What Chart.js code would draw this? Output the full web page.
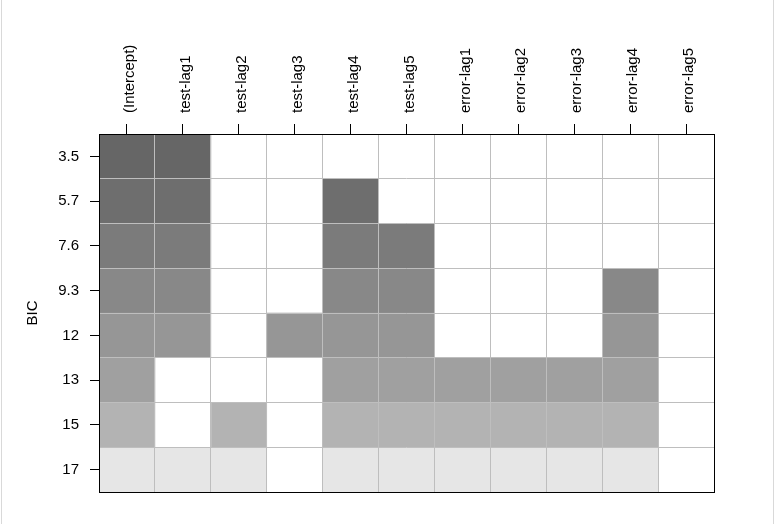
<!DOCTYPE html>
<html>
<head>
<meta charset="utf-8">
<script src="https://cdn.jsdelivr.net/npm/chart.js@4.4.1/dist/chart.umd.min.js"></script>
<style>
  body { margin: 0; background: #fff; }
  #wrap { position: relative; width: 775px; height: 524px; }
  #frame { position: absolute; left: 1px; top: 0; width: 771px; height: 524px;
           border-left: 1px solid #d9d9d9; border-right: 1px solid #d9d9d9; pointer-events: none; }
</style>
</head>
<body>
<div id="wrap">
  <canvas id="bicChart" width="775" height="524"></canvas>
  <div id="frame"></div>
</div>
<script>
// variables (columns) and models (rows, best BIC on top)
var varNames = ['(Intercept)', 'test-lag1', 'test-lag2', 'test-lag3', 'test-lag4', 'test-lag5',
                'error-lag1', 'error-lag2', 'error-lag3', 'error-lag4', 'error-lag5'];
var bicLabels = ['3.5', '5.7', '7.6', '9.3', '12', '13', '15', '17'];
var rowShades = ['#666666', '#6e6e6e', '#7b7b7b', '#888888', '#969696', '#a0a0a0', '#b3b3b3', '#e6e6e6'];

// 1 = variable in model
var model1 = [1, 1, 0, 0, 0, 0, 0, 0, 0, 0, 0];
var model2 = [1, 1, 0, 0, 1, 0, 0, 0, 0, 0, 0];
var model3 = [1, 1, 0, 0, 1, 1, 0, 0, 0, 0, 0];
var model4 = [1, 1, 0, 0, 1, 1, 0, 0, 0, 1, 0];
var model5 = [1, 1, 0, 1, 1, 1, 0, 0, 0, 1, 0];
var model6 = [1, 0, 0, 0, 1, 1, 1, 1, 1, 1, 0];
var model7 = [1, 0, 1, 0, 1, 1, 1, 1, 1, 1, 0];
var model8 = [1, 1, 1, 0, 1, 1, 1, 1, 1, 1, 0];
var models = [model1, model2, model3, model4, model5, model6, model7, model8];

var fontSpec = { family: "'Liberation Sans', Arial, sans-serif", size: 15 };

function gridColor(ctx, maxVal) {
    if (!ctx.tick) return '#000';
    var v = ctx.tick.value;
    if (v === 0 || v === maxVal) return 'rgba(0,0,0,0)';
    return '#bebebe';
}

var datasets = varNames.map(function (name, c) {
    return {
        label: name,
        data: models.map(function () { return 1; }),
        backgroundColor: models.map(function (m, r) { return m[c] ? rowShades[r] : '#ffffff'; }),
        borderWidth: 0,
        categoryPercentage: 1.0,
        barPercentage: 1.0
    };
});

var chartEl = document.getElementById('bicChart');
var bicChart = new Chart(chartEl, {
    type: 'bar',
    data: { labels: bicLabels, datasets: datasets },
    options: {
        indexAxis: 'y',
        responsive: false,
        animation: false,
        layout: { padding: 0 },
        plugins: { legend: { display: false }, tooltip: { enabled: false } },
        scales: {
            x: {
                type: 'linear', position: 'top', stacked: true, min: 0, max: 11,
                afterBuildTicks: function (axis) {
                    axis.ticks = varNames.map(function (n, i) { return { value: i + 0.5 }; });
                },
                afterFit: function (axis) { axis.height = 134; },
                ticks: {
                    autoSkip: false, minRotation: 90, maxRotation: 90, padding: 11, labelOffset: 21,
                    color: '#000', font: fontSpec,
                    callback: function (v, i) { return varNames[i]; }
                },
                grid: { drawOnChartArea: false, tickLength: 10, tickColor: '#000', offset: false },
                border: { color: '#000', width: 1, z: 3 }
            },
            y: {
                stacked: true, position: 'left',
                afterFit: function (axis) { axis.width = 99; },
                ticks: { color: '#000', font: fontSpec, padding: 11 },
                grid: { drawOnChartArea: false, tickLength: 9, tickColor: '#000', offset: false },
                border: { color: '#000', width: 1, z: 3 },
                title: { display: true, text: 'BIC', color: '#000', font: fontSpec, padding: { top: 24, bottom: 0 } }
            },
            xg: {
                type: 'linear', position: 'bottom', min: 0, max: 11, offset: false,
                afterFit: function (axis) { axis.height = 32; },
                ticks: { stepSize: 1, display: false },
                grid: { z: 1, offset: false, drawTicks: false, color: function (ctx) { return gridColor(ctx, 11); } },
                border: { color: '#000', width: 1, z: 3 }
            },
            yg: {
                type: 'linear', position: 'right', min: 0, max: 8, offset: false,
                afterFit: function (axis) { axis.width = 61; },
                ticks: { stepSize: 1, display: false },
                grid: { z: 1, offset: false, drawTicks: false, color: function (ctx) { return gridColor(ctx, 8); } },
                border: { color: '#000', width: 1, z: 3 }
            }
        }
    }
});
</script>
</body>
</html>
